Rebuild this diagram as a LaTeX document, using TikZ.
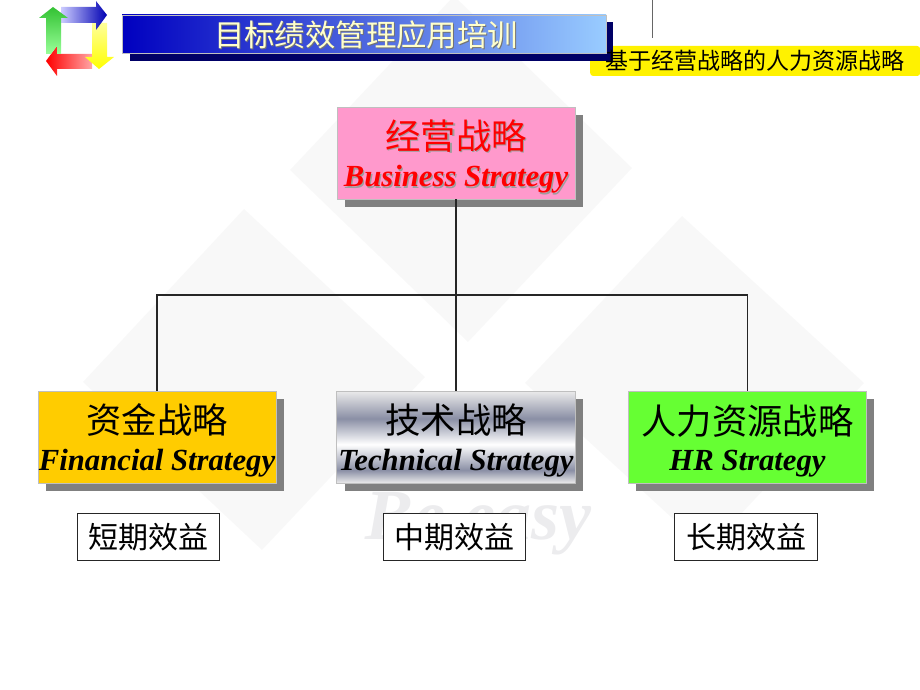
\documentclass[tikz,border=0pt]{standalone}
\usepackage{fontspec}
\setmainfont{Liberation Serif}
\newfontfamily\cjk{Noto Sans CJK SC}
\usetikzlibrary{
    calc,
    positioning,
    shadings
}
\definecolor{wmark}{HTML}{F8F8F8}
\definecolor{wtext}{HTML}{ECECEE}
\definecolor{shadowgray}{HTML}{808080}
\definecolor{boxpink}{HTML}{FF99CC}
\definecolor{boxgold}{HTML}{FFCC00}
\definecolor{boxgreen}{HTML}{66FF33}
\definecolor{steel}{HTML}{8A8FA5}
\definecolor{paleblue}{HTML}{99CCFF}
\definecolor{navy}{HTML}{000066}
\definecolor{cream}{HTML}{FFFFCC}
\pgfdeclareverticalshading{chrome}{100bp}{
    color(0bp)=(black!8); color(25bp)=(black!8); color(32bp)=(steel);
    color(46bp)=(white); color(60bp)=(steel); color(75bp)=(black!8); color(100bp)=(black!8)
}
\tikzset{
    strategy/.style={draw=black!25, line width=0.7pt, minimum width=238, minimum height=92, inner sep=0pt, align=center},
    stratlabel/.style={minimum width=238, minimum height=92, inner sep=0pt, align=center},
    outcome/.style={draw=black!85, line width=1pt, fill=white, minimum width=142, minimum height=47, inner sep=0pt, font=\cjk\fontsize{30}{30}\selectfont},
    backing/.style={fill=shadowgray, minimum width=238, minimum height=92, inner sep=0pt},
    link/.style={draw=black!85, line width=1.3pt}
}
\newcommand{\stratname}[2]{{\cjk\fontsize{35.3}{37}\selectfont\rule{0pt}{37pt}#1}\\[12pt]{\fontsize{30.7}{31}\selectfont\bfseries\itshape #2}}
\begin{document}
\begin{tikzpicture}[x=1pt, y=-1pt]
    \useasboundingbox (0, 0) rectangle (920, 690);
    % watermark
    \fill[wmark] (454, -4) -- (632, 168) -- (468, 342) -- (290, 170) -- cycle;
    \fill[wmark] (244, 209) -- (425, 377) -- (262, 550) -- (83, 382) -- cycle;
    \fill[wmark] (682, 216) -- (864, 383) -- (707, 550) -- (525, 383) -- cycle;
    \node[text=wtext, font=\fontsize{72}{72}\selectfont\itshape\bfseries] (motto) at (478, 524) {Be easy};
    % logo
    \shade[left color=red, right color=red!35] (92, 54) -- (92, 69) -- (57, 69) -- (57, 76) -- (46, 61) -- (57, 46) -- (57, 54) -- cycle;
    \shade[top color=yellow!40, bottom color=yellow] (92, 23) -- (107, 23) -- (107, 57) -- (114, 57) -- (99, 69) -- (85, 57) -- (92, 57) -- cycle;
    \shade[left color=blue!20, right color=blue!70!black] (61, 7) -- (96, 7) -- (96, 1) -- (107, 15) -- (96, 30) -- (96, 23) -- (61, 23) -- cycle;
    \shade[top color=green!70!black!80, bottom color=green!40] (46, 54) -- (51, 54) -- (57, 46) -- (57, 54) -- (61, 54) -- (61, 18) -- (68, 18) -- (53, 7) -- (39, 18) -- (46, 18) -- cycle;
    % title bar
    \node[fill=yellow, rounded corners=3pt, minimum width=330, minimum height=30, inner sep=0pt, anchor=west] (subbox) at (590, 61) {};
    \fill[navy] (130, 22) rectangle (613, 61);
    \shade[left color=blue!75!black, right color=paleblue, draw=black!25, line width=0.7pt] (122, 15) rectangle (606, 53);
    \node[text=black!55, font=\cjk\fontsize{30.4}{30}\selectfont] (titleback) at (367, 36) {目标绩效管理应用培训};
    \node[text=cream, font=\cjk\fontsize{30.4}{30}\selectfont] (title) at (366, 35) {目标绩效管理应用培训};
    \draw[black!60, line width=0.8pt] (652, 0) -- (652, 38);
    \node[font=\cjk\fontsize{23}{23}\selectfont] (subtitle) at (755, 61) {基于经营战略的人力资源战略};
    % boxes
    \node[backing] (bizback) at (464, 161) {};
    \node[backing] (finback) at (165, 445) {};
    \node[backing] (techback) at (464, 445) {};
    \node[backing] (hrback) at (755, 445) {};
    \node[strategy, fill=boxpink] (biz) at (456, 153) {};
    \node[stratlabel, text=black!38] (bizshade) at (457.3, 154.3) {\stratname{经营战略}{Business Strategy}};
    \node[stratlabel, text=red] (bizlabel) at (456, 153) {\stratname{经营战略}{Business Strategy}};
    \node[strategy, fill=boxgold] (fin) at (157, 437) {\stratname{资金战略}{Financial Strategy}};
    \node[strategy, minimum width=239, shading=chrome] (tech) at (456, 437) {\stratname{技术战略}{Technical Strategy}};
    \node[strategy, fill=boxgreen] (hr) at (747.5, 437) {\stratname{人力资源战略}{HR Strategy}};
    \coordinate (bus) at (456, 295);
    \draw[link, line width=1.6pt] (biz.south) -- (bus);
    \draw[link] (bus) -- (tech.north);
    \draw[link] (fin.north) |- (bus) -| (hr.north);
    \node[outcome] (short) at (148, 537) {短期效益};
    \node[outcome] (mid) at (454.5, 537) {中期效益};
    \node[outcome, minimum width=143] (long) at (746, 537) {长期效益};
\end{tikzpicture}
\end{document}
